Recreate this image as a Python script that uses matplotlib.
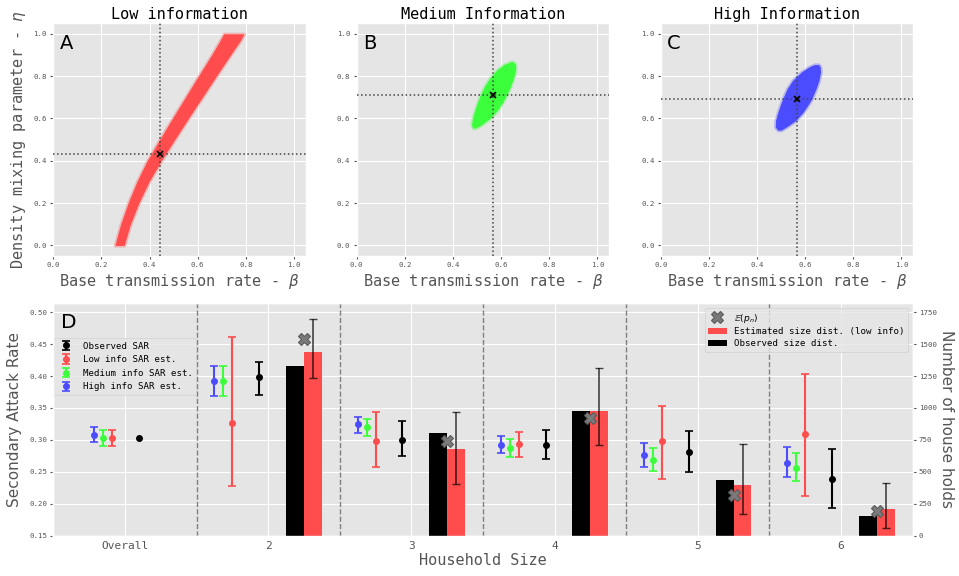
import numpy as np
import matplotlib
matplotlib.use("Agg")
import matplotlib.pyplot as plt

plt.style.use("ggplot")
plt.rcParams["font.family"] = ["DejaVu Sans Mono", "DejaVu Sans"]
plt.rcParams["mathtext.fontset"] = "dejavusans"

# ---------------- top panels: posterior clouds (outline) ----------------
panel_titles = ["Low information", "Medium Information", "High Information"]
panel_letters = ["A", "B", "C"]
cloud_colors = ["#FF4C4C", "#3CFF3C", "#4C4CFF"]

low_eta = [0.0, 0.1, 0.2, 0.3, 0.4, 0.5, 0.6, 0.7, 0.8, 0.9, 0.97, 1.0]
low_beta_left = [0.256, 0.280, 0.311, 0.347, 0.390, 0.442, 0.495, 0.549, 0.603, 0.658, 0.694, 0.708]
low_beta_right = [0.294, 0.320, 0.355, 0.397, 0.448, 0.504, 0.561, 0.619, 0.677, 0.736, 0.778, 0.792]

med_eta = [0.555, 0.57, 0.60, 0.64, 0.68, 0.71, 0.75, 0.79, 0.83, 0.855, 0.868]
med_beta_left = [0.482, 0.477, 0.481, 0.491, 0.503, 0.513, 0.530, 0.552, 0.583, 0.612, 0.640]
med_beta_right = [0.494, 0.518, 0.553, 0.585, 0.608, 0.622, 0.638, 0.651, 0.660, 0.660, 0.650]

high_eta = [0.545, 0.56, 0.59, 0.63, 0.67, 0.693, 0.74, 0.78, 0.82, 0.845, 0.855]
high_beta_left = [0.486, 0.476, 0.477, 0.487, 0.499, 0.507, 0.525, 0.548, 0.585, 0.618, 0.640]
high_beta_right = [0.500, 0.522, 0.560, 0.592, 0.615, 0.627, 0.645, 0.657, 0.664, 0.662, 0.655]

map_beta = [0.445, 0.565, 0.565]
map_eta = [0.433, 0.709, 0.693]

# ---------------- bottom panel: SAR by household size ----------------
categories = ["Overall", "2", "3", "4", "5", "6"]

obs_sar = [0.303, 0.3986, 0.3004, 0.2926, 0.2811, 0.2388]
obs_lo = [np.nan, 0.370, 0.2744, 0.270, 0.2493, 0.1929]
obs_hi = [np.nan, 0.4222, 0.329, 0.316, 0.3145, 0.2863]

low_sar = [0.303, 0.327, 0.2984, 0.2937, 0.2989, 0.3093]
low_lo = [0.290, 0.2274, 0.2576, 0.2728, 0.2388, 0.2117]
low_hi = [0.316, 0.4618, 0.3433, 0.312, 0.3537, 0.4029]

med_sar = [0.303, 0.3918, 0.320, 0.2874, 0.268, 0.256]
med_lo = [0.290, 0.3689, 0.3067, 0.2728, 0.2509, 0.2357]
med_hi = [0.3156, 0.4165, 0.3328, 0.301, 0.287, 0.280]

high_sar = [0.3078, 0.3924, 0.3245, 0.2926, 0.276, 0.2644]
high_lo = [0.2963, 0.3689, 0.311, 0.279, 0.257, 0.2424]
high_hi = [0.3208, 0.4154, 0.336, 0.3067, 0.2948, 0.2894]

size_categories = ["2", "3", "4", "5", "6"]
observed_households = [1332, 807, 979, 436, 152]
estimated_households = [1441, 677, 979, 395, 211]
estimated_lo = [1233, 405, 710, 170, 60]
estimated_hi = [1697, 967, 1311, 716, 415]
expected_households = [1538, 744, 922, 319, 191]

# ---------------- figure ----------------
fig = plt.figure(figsize=(9.59, 5.76), dpi=100)
lefts = [0.0556, 0.372, 0.689]
clouds = [(low_eta, low_beta_left, low_beta_right),
          (med_eta, med_beta_left, med_beta_right),
          (high_eta, high_beta_left, high_beta_right)]
TICK_FS = 5.3
for i in range(3):
    axp = fig.add_axes([lefts[i], 0.5556, 0.2635, 0.404])
    eta, bl, br = clouds[i]
    axp.fill_betweenx(eta, bl, br, color=cloud_colors[i], alpha=0.3, lw=2.5,
                      edgecolor=cloud_colors[i], zorder=2)
    axp.fill_betweenx(eta, bl, br, color=cloud_colors[i], lw=0, zorder=3)
    axp.axvline(map_beta[i], color="#444444", ls=":", lw=1.1, zorder=4)
    axp.axhline(map_eta[i], color="#444444", ls=":", lw=1.1, zorder=4)
    axp.plot([map_beta[i]], [map_eta[i]], marker="x", color="black", ms=5, mew=1.2, zorder=5)
    axp.set_xlim(0, 1.05)
    axp.set_ylim(-0.05, 1.05)
    axp.set_xticks(np.arange(0, 1.01, 0.2))
    axp.set_yticks(np.arange(0, 1.01, 0.2))
    axp.tick_params(labelsize=TICK_FS, length=2.5, pad=2)
    axp.set_title(panel_titles[i], fontsize=11, pad=3, color="black")
    axp.set_xlabel(r"Base transmission rate - $\beta$", fontsize=11, labelpad=3)
    if i == 0:
        axp.set_ylabel(r"Density mixing parameter - $\eta$", fontsize=11, labelpad=4)
    axp.text(0.025, 0.955, panel_letters[i], transform=axp.transAxes, fontsize=14,
             family="DejaVu Sans", va="top", ha="left", color="black")

# bottom
ax = fig.add_axes([0.0556, 0.070, 0.896, 0.4035])
ax2 = ax.twinx()
x = np.arange(len(categories))
est_offsets = np.array([-0.375, -0.3125, -0.25, -0.0625])
overall_shift = 0.1625

series = [(high_sar, high_lo, high_hi, "#4C4CFF", "High info SAR est."),
          (med_sar, med_lo, med_hi, "#3CFF3C", "Medium info SAR est."),
          (low_sar, low_lo, low_hi, "#FF4C4C", "Low info SAR est."),
          (obs_sar, obs_lo, obs_hi, "black", "Observed SAR")]
handles = {}
for j, (c, lo, hi, col, lab) in enumerate(series):
    c = np.array(c, float); lo = np.array(lo, float); hi = np.array(hi, float)
    xs = x + est_offsets[j] + np.where(x == 0, overall_shift, 0.0)
    ok = np.isfinite(lo)
    h = ax.errorbar(xs[ok], c[ok], yerr=[c[ok] - lo[ok], hi[ok] - c[ok]], fmt="o", color=col,
                    ms=4, capsize=3, elinewidth=1.5, capthick=1.2, label=lab, zorder=3)
    if (~ok).any():
        ax.plot(xs[~ok], c[~ok], "o", color=col, ms=4, zorder=3)
    handles[lab] = h

for k in range(len(categories) - 1):
    ax.axvline(k + 0.5, color="#808080", ls="--", lw=1, zorder=1)

ax.set_xlim(-0.5, len(categories) - 0.5)
ax.set_ylim(0.15, 0.514)
ax.set_yticks(np.arange(0.15, 0.501, 0.05))
ax.set_yticklabels([f"{v:.2f}" for v in np.arange(0.15, 0.501, 0.05)])
ax.set_xticks(x)
ax.set_xticklabels(categories, fontsize=8)
ax.tick_params(axis="y", labelsize=TICK_FS, length=2.5, pad=2)
ax.tick_params(axis="x", length=0, pad=4)
ax.set_ylabel("Secondary Attack Rate", fontsize=11, family="DejaVu Sans", labelpad=5)
ax.set_xlabel("Household Size", fontsize=11, labelpad=1)
ax.text(0.009, 0.957, "D", transform=ax.transAxes, fontsize=14.5, family="DejaVu Sans",
        va="top", ha="left", color="black")

xb = np.arange(1, len(categories))
ax2.bar(xb + 0.1875, observed_households, width=0.125, color="black", label="Observed size dist.",
        zorder=2)
ax2.bar(xb + 0.3125, estimated_households, width=0.125, color="#FF4C4C",
        label="Estimated size dist. (low info)", zorder=2)
est = np.array(estimated_households, float)
ax2.errorbar(xb + 0.3125, est, yerr=[est - np.array(estimated_lo), np.array(estimated_hi) - est],
             fmt="none", ecolor="black", alpha=0.7, capsize=3, elinewidth=1.2, zorder=3)
ax2.plot(xb + 0.25, expected_households, "X", color="#7a7a7a", mec="#5a5a5a", mew=0.8, ms=8,
         ls="none", label=r"$\mathbb{E}(p_n)$", zorder=4)
ax2.grid(False)
ax2.set_ylim(0, 1820)
ax2.set_yticks(np.arange(0, 1751, 250))
ax2.tick_params(axis="y", labelsize=TICK_FS, length=2.5, pad=2)
ax2.set_ylabel("Number of house holds", fontsize=11, family="DejaVu Sans", rotation=270,
               labelpad=12)

leg1 = ax.legend([handles["Observed SAR"], handles["Low info SAR est."],
                  handles["Medium info SAR est."], handles["High info SAR est."]],
                 ["Observed SAR", "Low info SAR est.", "Medium info SAR est.", "High info SAR est."],
                 loc="upper left", bbox_to_anchor=(0.0, 0.851), borderaxespad=0,
                 fontsize=6.6, labelspacing=0.5)
h2, l2 = ax2.get_legend_handles_labels()
order = [l2.index(r"$\mathbb{E}(p_n)$"), l2.index("Estimated size dist. (low info)"),
         l2.index("Observed size dist.")]
ax2.legend([h2[o] for o in order], [l2[o] for o in order], loc="upper right",
           fontsize=6.6, labelspacing=0.3)

fig.savefig("out.png", dpi=100)
